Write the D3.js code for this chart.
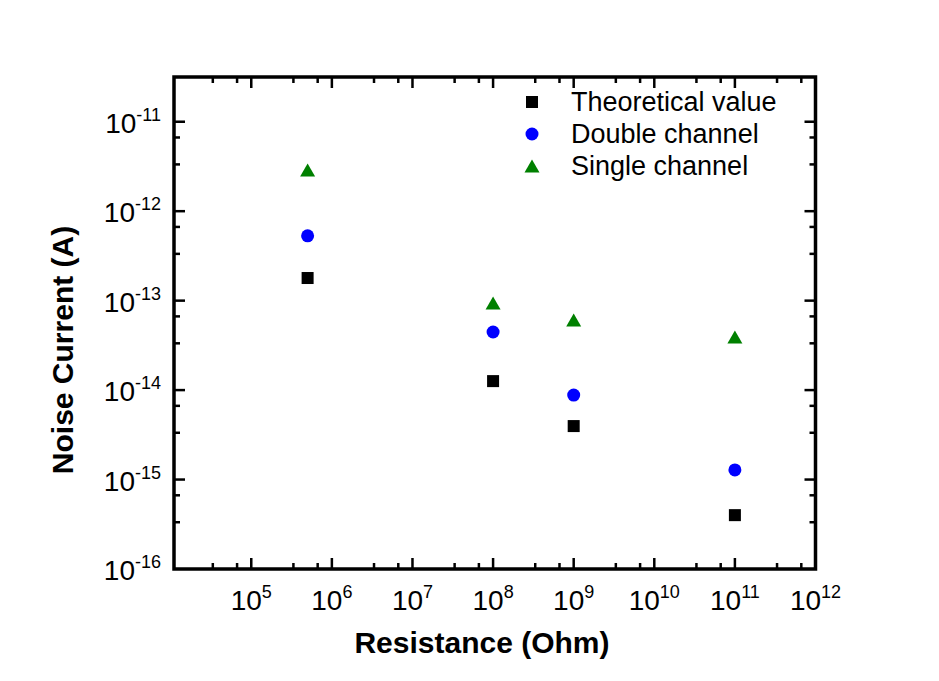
<!DOCTYPE html>
<html lang="en">
<head>
  <meta charset="UTF-8">
  <title>Noise Current vs Resistance</title>
  <script src="https://d3js.org/d3.v7.min.js"></script>
  <style>
    body { margin: 0; background: #fff; }
    svg { font-family: "Liberation Sans", Arial, sans-serif; }
    .tick-label { font-size: 28px; fill: #000; }
    .axis-title { font-size: 30px; font-weight: bold; fill: #000; }
    .legend text { font-size: 27px; fill: #000; }
  </style>
</head>
<body>
  <svg width="939" height="681"></svg>

  <script>
    // resistance values (Ohm)
    const resistances = [5e5, 1e8, 1e9, 1e11];

    // noise current (A)
    const theoretical = [1.79e-13, 1.26e-14, 3.96e-15, 4.0e-16];
    const doubleChannel = [5.3e-13, 4.46e-14, 8.8e-15, 1.28e-15];
    const singleChannel = [2.88e-12, 9.4e-14, 6.07e-14, 3.92e-14];

    const seriesNames = ["Theoretical value", "Double channel", "Single channel"];
    const seriesColors = ["#000000", "#0000ff", "#008000"];
    const seriesShapes = ["square", "circle", "triangle"];

    const xTickExps = [5, 6, 7, 8, 9, 10, 11, 12];
    const yTickExps = [-16, -15, -14, -13, -12, -11];

    const svg = d3.select("svg");

    const pLeft = 174, pRight = 815.5, pTop = 77, pBottom = 569;

    const x = d3.scaleLog().domain([1.1e4, 1e12]).range([pLeft, pRight]);
    const y = d3.scaleLog().domain([1e-16, Math.pow(10, -10.5)]).range([pBottom, pTop]);

    // minor ticks at 1/3 and 2/3 of each decade (Origin style)
    function minorTicks(scale, lo, hi) {
      const out = [];
      const d = scale.domain();
      for (let e = lo; e <= hi; e++) {
        [10 / 3, 20 / 3].forEach(k => {
          const v = k * Math.pow(10, e);
          if (v > d[0] && v < d[1]) out.push(v);
        });
      }
      return out;
    }

    const xMajor = xTickExps.map(e => Math.pow(10, e));
    const yMajor = yTickExps.map(e => Math.pow(10, e));
    const xMinor = minorTicks(x, 3, 12);
    const yMinor = minorTicks(y, -17, -11);

    const majorLen = 11, minorLen = 6;
    const ticks = svg.append("g")
      .attr("stroke", "#000")
      .attr("stroke-width", 2.5);

    // bottom + top
    [[pBottom, -1], [pTop, 1]].forEach(([yy, dir]) => {
      ticks.selectAll(null).data(xMajor.filter(v => x(v) < pRight - 1)).enter().append("line")
        .attr("x1", d => x(d)).attr("x2", d => x(d))
        .attr("y1", yy).attr("y2", yy + dir * majorLen);
      ticks.selectAll(null).data(xMinor).enter().append("line")
        .attr("x1", d => x(d)).attr("x2", d => x(d))
        .attr("y1", yy).attr("y2", yy + dir * minorLen);
    });
    // left + right
    [[pLeft, 1], [pRight, -1]].forEach(([xx, dir]) => {
      ticks.selectAll(null).data(yMajor.filter(v => y(v) < pBottom - 1)).enter().append("line")
        .attr("y1", d => y(d)).attr("y2", d => y(d))
        .attr("x1", xx).attr("x2", xx + dir * majorLen);
      ticks.selectAll(null).data(yMinor).enter().append("line")
        .attr("y1", d => y(d)).attr("y2", d => y(d))
        .attr("x1", xx).attr("x2", xx + dir * minorLen);
    });

    // frame
    svg.append("rect")
      .attr("x", pLeft).attr("y", pTop)
      .attr("width", pRight - pLeft).attr("height", pBottom - pTop)
      .attr("fill", "none")
      .attr("stroke", "#000")
      .attr("stroke-width", 3.5);

    // x tick labels
    const xl = svg.append("g").selectAll("text")
      .data(xTickExps).enter().append("text")
      .attr("class", "tick-label")
      .attr("text-anchor", "middle")
      .attr("x", d => x(Math.pow(10, d)))
      .attr("y", pBottom + 41);
    xl.append("tspan").text("10");
    xl.append("tspan").attr("dy", -12).attr("font-size", 18).text(d => d);

    // y tick labels
    const yl = svg.append("g").selectAll("text")
      .data(yTickExps).enter().append("text")
      .attr("class", "tick-label")
      .attr("text-anchor", "end")
      .attr("x", pLeft - 13)
      .attr("y", d => y(Math.pow(10, d)) + 11);
    yl.append("tspan").text("10");
    yl.append("tspan").attr("dy", -12).attr("font-size", 18).text(d => "-" + Math.abs(d));

    // axis titles
    svg.append("text")
      .attr("class", "axis-title")
      .attr("text-anchor", "middle")
      .attr("x", 482).attr("y", 653)
      .text("Resistance (Ohm)");

    svg.append("text")
      .attr("class", "axis-title")
      .attr("text-anchor", "middle")
      .attr("transform", "translate(73,350) rotate(-90)")
      .text("Noise Current (A)");

    function marker(sel, shape, color) {
      if (shape === "square") {
        sel.append("rect").attr("x", -6).attr("y", -6).attr("width", 12).attr("height", 12).attr("fill", color);
      } else if (shape === "circle") {
        sel.append("circle").attr("r", 6.5).attr("fill", color);
      } else {
        sel.append("path").attr("d", "M0,-6.5L7.5,6.5L-7.5,6.5Z").attr("fill", color);
      }
    }

    const allSeries = [theoretical, doubleChannel, singleChannel];
    allSeries.forEach((vals, i) => {
      svg.append("g").selectAll("g")
        .data(vals).enter().append("g")
        .attr("transform", (d, j) => `translate(${x(resistances[j])},${y(d)})`)
        .each(function () { marker(d3.select(this), seriesShapes[i], seriesColors[i]); });
    });

    // legend
    const legend = svg.append("g").attr("class", "legend");
    seriesNames.forEach((name, i) => {
      const row = legend.append("g").attr("transform", `translate(532,${102 + i * 32})`);
      marker(row, seriesShapes[i], seriesColors[i]);
      row.append("text").attr("x", 39).attr("y", 9).text(name);
    });
  </script>
</body>
</html>
